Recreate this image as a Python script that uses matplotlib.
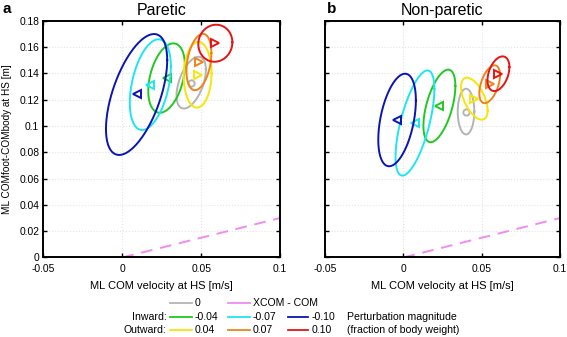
import numpy as np
import matplotlib
matplotlib.use('Agg')
import matplotlib.pyplot as plt
from matplotlib.lines import Line2D

plt.rcParams['font.family'] = ['Liberation Sans', 'DejaVu Sans']

# conditions: perturbation magnitude (fraction of body weight)
conditions = ['0', '-0.04', '-0.07', '-0.10', '0.04', '0.07', '0.10']
colors = ['#b4b4b4', '#22c822', '#1ee6f0', '#0a14b4', '#f5e60a', '#f0821e', '#e61414']
markers = ['o', '<', '<', '<', '>', '>', '>']

# paretic side: mean COM velocity, mean COMfoot-COMbody, sd x, sd y, correlation
par_vx = [0.0437, 0.0281, 0.0178, 0.0091, 0.0478, 0.0486, 0.0590]
par_dy = [0.1330, 0.1365, 0.1315, 0.1240, 0.1390, 0.1487, 0.1630]
par_sx = [0.0093, 0.0116, 0.0130, 0.0194, 0.0088, 0.0079, 0.0108]
par_sy = [0.0197, 0.0264, 0.0345, 0.0460, 0.0250, 0.0214, 0.0141]
par_rho = [0.50, 0.37, 0.40, 0.57, 0.05, 0.32, 0.05]

# non-paretic side
np_vx = [0.0400, 0.0230, 0.0074, -0.0040, 0.0453, 0.0551, 0.0607]
np_dy = [0.1110, 0.1153, 0.1023, 0.1046, 0.1208, 0.1318, 0.1398]
np_sx = [0.0053, 0.0102, 0.0124, 0.0120, 0.0085, 0.0066, 0.0070]
np_sy = [0.0174, 0.0276, 0.0400, 0.0352, 0.0160, 0.0144, 0.0132]
np_rho = [0.0, 0.55, 0.645, 0.425, -0.56, 0.48, 0.38]

# XCOM - COM boundary
xcom_x = [0.0, 0.1]
xcom_y = [0.0, 0.03]


def ellipse(cx, cy, sx, sy, rho):
    t = np.linspace(0, 2 * np.pi, 200)
    x = cx + sx * np.cos(t)
    y = cy + sy * (rho * np.cos(t) + np.sqrt(1 - rho ** 2) * np.sin(t))
    return x, y


def draw_panel(ax, vx, dy, sx, sy, rho, title, ylabels):
    ax.plot(xcom_x, xcom_y, color='#f08cf0', lw=1.4, dashes=(6, 4))
    for i in range(len(conditions)):
        ex, ey = ellipse(vx[i], dy[i], sx[i], sy[i], rho[i])
        ax.plot(ex, ey, color=colors[i], lw=1.4)
        ms = 4.5 if markers[i] == 'o' else 6
        ax.plot(vx[i], dy[i], marker=markers[i], ms=ms, mfc='none',
                mec=colors[i], mew=1.4, ls='none')
    ax.set_xlim(-0.05, 0.1)
    ax.set_ylim(0, 0.18)
    ax.set_xticks([-0.05, 0, 0.05, 0.1])
    ax.set_xticklabels(['-0.05', '0', '0.05', '0.1'])
    ax.set_yticks(np.arange(0, 0.181, 0.02))
    if ylabels:
        ax.set_yticklabels(['0', '0.02', '0.04', '0.06', '0.08', '0.1',
                            '0.12', '0.14', '0.16', '0.18'])
        ax.set_ylabel('ML COMfoot-COMbody at HS [m]', fontsize=7.2, labelpad=5)
    else:
        ax.set_yticklabels([])
    ax.set_xlabel('ML COM velocity at HS [m/s]', fontsize=8, labelpad=5)
    ax.set_title(title, fontsize=11.5, pad=4)
    ax.grid(True, color='#e4e4e4', ls=':', lw=0.8)
    ax.tick_params(direction='in', top=True, right=True, length=3,
                   width=1, labelsize=7.4, pad=3)
    ax.tick_params(axis='x', pad=5)
    for s in ax.spines.values():
        s.set_linewidth(1.4)


fig = plt.figure(figsize=(5.67, 3.37), dpi=100)
ax_a = fig.add_axes([0.0764, 0.236, 0.4175, 0.702])
ax_b = fig.add_axes([0.5732, 0.236, 0.4145, 0.702])

draw_panel(ax_a, par_vx, par_dy, par_sx, par_sy, par_rho, 'Paretic', True)
draw_panel(ax_b, np_vx, np_dy, np_sx, np_sy, np_rho, 'Non-paretic', False)

fig.text(0.004, 0.995, 'a', fontsize=11, weight='bold', va='top')
fig.text(0.577, 0.995, 'b', fontsize=11, weight='bold', va='top')

# legend drawn as a small table under the panels
rows_y = [0.1018, 0.0602, 0.0199]
col_x = [(170, 192, 195), (228, 250, 253), (288, 308, 312)]
W = 567.0
fs = 7.6


def leg_entry(col, row, color, label):
    x0, x1, xt = col_x[col]
    y = rows_y[row]
    fig.add_artist(Line2D([x0 / W, x1 / W], [y, y], color=color, lw=1.3,
                          transform=fig.transFigure))
    fig.text(xt / W, y, label, fontsize=fs, va='center', ha='left')


leg_entry(0, 0, colors[0], conditions[0])
leg_entry(1, 0, '#f08cf0', 'XCOM - COM')
for k in range(3):
    leg_entry(k, 1, colors[1 + k], conditions[1 + k])
    leg_entry(k, 2, colors[4 + k], conditions[4 + k])

fig.text(166.5 / W, rows_y[1], 'Inward:', fontsize=fs, va='center', ha='right')
fig.text(166.5 / W, rows_y[2], 'Outward:', fontsize=fs, va='center', ha='right')
fig.text(347 / W, rows_y[1], 'Perturbation magnitude', fontsize=fs, va='center')
fig.text(347 / W, rows_y[2], '(fraction of body weight)', fontsize=fs, va='center')

fig.savefig('out.png', dpi=100)
